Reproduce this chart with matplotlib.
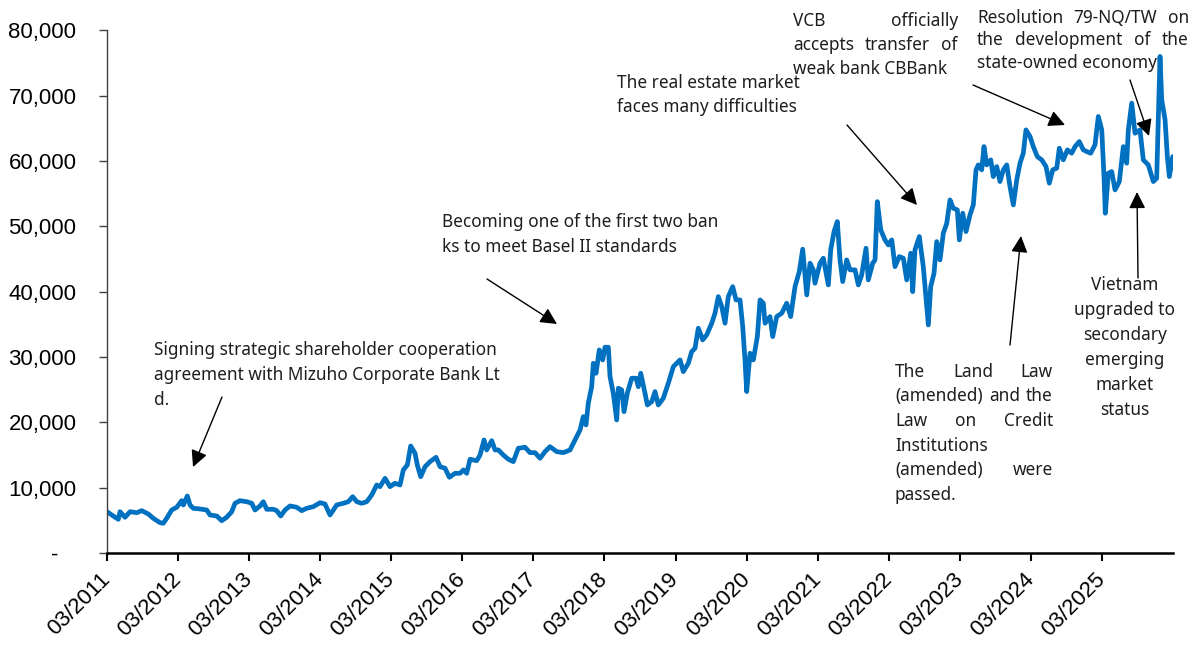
import matplotlib
matplotlib.use("Agg")
import matplotlib.pyplot as plt
from matplotlib.transforms import IdentityTransform
from matplotlib.ticker import FuncFormatter

# VCB share price (VND), dates as decimal years
dates = [
    2011.167, 2011.255, 2011.326, 2011.350, 2011.420, 2011.491, 2011.585, 2011.655,
    2011.748, 2011.818, 2011.913, 2011.959, 2012.007, 2012.077, 2012.148, 2012.218,
    2012.241, 2012.297, 2012.335, 2012.381, 2012.476, 2012.570, 2012.616, 2012.711,
    2012.781, 2012.851, 2012.922, 2012.968, 2013.038, 2013.133, 2013.203, 2013.250,
    2013.320, 2013.366, 2013.414, 2013.507, 2013.555, 2013.611, 2013.672, 2013.742,
    2013.836, 2013.907, 2013.977, 2014.070, 2014.164, 2014.234, 2014.305,
    2014.399, 2014.492, 2014.562, 2014.624, 2014.681, 2014.751, 2014.821, 2014.892,
    2014.962, 2015.008, 2015.079, 2015.149, 2015.219, 2015.290, 2015.336, 2015.393,
    2015.440, 2015.501, 2015.533, 2015.581, 2015.642, 2015.712, 2015.796, 2015.853,
    2015.923, 2015.984, 2016.064, 2016.134, 2016.181, 2016.228, 2016.275, 2016.369,
    2016.416, 2016.472, 2016.510, 2016.580, 2016.627, 2016.673, 2016.743, 2016.814,
    2016.884, 2016.954, 2017.049, 2017.119, 2017.189, 2017.260, 2017.330,
    2017.400, 2017.495, 2017.588, 2017.682, 2017.752, 2017.823, 2017.869, 2017.907,
    2017.939, 2017.987, 2018.010, 2018.048, 2018.094, 2018.142, 2018.174, 2018.221,
    2018.245, 2018.291, 2018.339, 2018.362, 2018.409, 2018.442, 2018.488, 2018.550,
    2018.611, 2018.643, 2018.677, 2018.737, 2018.770, 2018.832, 2018.878, 2018.924,
    2018.995, 2019.065, 2019.136, 2019.183, 2019.230, 2019.276, 2019.347, 2019.394,
    2019.441, 2019.487, 2019.549, 2019.605, 2019.676, 2019.722, 2019.769, 2019.817,
    2019.863, 2019.909, 2019.971, 2020.018, 2020.074, 2020.112, 2020.144, 2020.168,
    2020.215, 2020.261, 2020.318,
    2020.356, 2020.402, 2020.426, 2020.496, 2020.534, 2020.590, 2020.661, 2020.731,
    2020.787, 2020.848, 2020.908, 2020.956, 2021.013, 2021.059, 2021.105, 2021.129,
    2021.200, 2021.246, 2021.317, 2021.350, 2021.397, 2021.443, 2021.481, 2021.519,
    2021.575, 2021.622, 2021.692, 2021.739, 2021.786, 2021.847, 2021.879, 2021.941,
    2021.974, 2022.006, 2022.054, 2022.114, 2022.161, 2022.209, 2022.255, 2022.315,
    2022.372, 2022.420, 2022.476, 2022.504, 2022.536, 2022.597, 2022.653, 2022.724,
    2022.757, 2022.804, 2022.842, 2022.888, 2022.935, 2022.983, 2023.029, 2023.075,
    2023.132, 2023.160,
    2023.208, 2023.254, 2023.310, 2023.357, 2023.395, 2023.427, 2023.475, 2023.507,
    2023.545, 2023.602, 2023.638, 2023.686, 2023.732, 2023.779, 2023.827, 2023.873,
    2023.920, 2023.968, 2024.014, 2024.060, 2024.098, 2024.155, 2024.201, 2024.257,
    2024.319, 2024.380, 2024.426, 2024.474, 2024.530, 2024.567, 2024.623, 2024.680,
    2024.741, 2024.788, 2024.848, 2024.905, 2024.952, 2025.009, 2025.069, 2025.116,
    2025.164, 2025.196, 2025.214, 2025.257, 2025.304, 2025.351, 2025.411, 2025.468,
    2025.515, 2025.538, 2025.586, 2025.632, 2025.702, 2025.749, 2025.819, 2025.890,
    2025.937, 2025.984, 2026.008, 2026.055, 2026.087, 2026.115, 2026.163,
]

prices = [
    6320, 5660, 5160, 6320, 5470, 6320, 6170, 6480,
    5970, 5310, 4640, 4550, 5310, 6580, 7000, 8010,
    7350, 8730, 7350, 6840, 6740, 6580, 5820, 5660,
    4950, 5470, 6320, 7610, 8010, 7850, 7610, 6580,
    7200, 7850, 6690, 6690, 6480, 5660, 6580, 7200,
    7000, 6480, 6840, 7090, 7700, 7500, 5820,
    7350, 7610, 7850, 8620, 7850, 7610, 7850, 8880,
    10410, 10150, 11430, 10150, 10670, 10410, 12710, 13470,
    16380, 15260, 13470, 11680, 13210, 13980, 14650, 13210,
    12970, 11590, 12200, 12200, 12710, 12200, 14350, 14130,
    15000, 17300, 15770, 17190, 15770, 15770, 15000, 14350,
    13980, 16030, 16180, 15360, 15360, 14500, 15510,
    16270, 15510, 15360, 15770, 17300, 18830, 20870, 19600,
    22920, 25460, 29040, 27510, 31080, 29550, 31490, 31490,
    26990, 24450, 20360, 25220, 24960, 21630, 24450, 26750,
    26750, 25460, 27510, 24450, 22660, 23170, 24700, 22660,
    23690, 25980, 28520, 29040, 29550, 27760, 29040, 30820,
    31340, 34400, 32610, 33380, 35170, 36700, 39240, 37710,
    35170, 39240, 40770, 38730, 38730, 34650, 29550, 24700,
    30570, 29550, 33120,
    38730, 38230, 35170, 36180, 33120, 36180, 36700, 38230,
    36180, 40770, 43070, 46500, 39500, 44350, 43330, 41290,
    44350, 45120, 41030, 46390, 49190, 50720, 44860, 41540,
    44860, 43330, 43330, 41030, 42560, 46650, 41800, 44350,
    44860, 53780, 49450, 47920, 47150, 47920, 43830, 45360,
    45120, 41800, 45880, 40000, 46390, 48430, 43830, 34910,
    40770, 42820, 47660, 44860, 48950, 50460, 54040, 52770,
    52510, 47920,
    52000, 49190, 51750, 53280, 58640, 59400, 58640, 62200,
    59400, 60170, 57610, 59140, 56850, 58640, 59400, 56080,
    53280, 57110, 59660, 61190, 64760, 63740, 62200, 60680,
    60170, 59140, 56600, 58640, 58890, 61950, 60170, 61700,
    61190, 62200, 62970, 61700, 61440, 61190, 62470, 66810,
    64760, 57610, 52000, 58130, 58380, 55570, 56850, 62200,
    59660, 64760, 68850, 64250, 64760, 60170, 59400, 56850,
    57360, 75990, 69360, 66300, 60680, 57610, 60680,
]

tick_years = list(range(2011, 2026))
tick_labels = [f"03/{y}" for y in tick_years]
y_ticks = [0, 10000, 20000, 30000, 40000, 50000, 60000, 70000, 80000]

W, H = 1202, 648
fig = plt.figure(figsize=(W / 100, H / 100), dpi=100)
fig.patch.set_facecolor("white")
ax = fig.add_axes([107 / W, 1 - 553 / H, (1173 - 107) / W, (553 - 30.3) / H])

ax.plot(dates, prices, color="#0070C0", lw=3.4, solid_joinstyle="round",
        solid_capstyle="round")

ax.set_xlim(2011 + 2 / 12, 2026 + 2 / 12)
ax.set_ylim(0, 80000)
ax.set_xticks([y + 2 / 12 for y in tick_years])
ax.set_xticklabels(tick_labels)
ax.set_yticks(y_ticks)
# accounting-style labels: zero shown as a dash, padded like the number column
ax.yaxis.set_major_formatter(
    FuncFormatter(lambda v, p: "-   " if v == 0 else f"{v:,.0f}"))

for side in ("top", "right"):
    ax.spines[side].set_visible(False)
ax.spines["left"].set_color("#404040")
ax.spines["left"].set_linewidth(1.0)
ax.spines["bottom"].set_color("black")
ax.spines["bottom"].set_linewidth(1.8)

ax.tick_params(axis="y", direction="out", length=6, width=1.0, color="#404040",
               pad=16, labelsize=16)
ax.tick_params(axis="x", direction="out", length=6, width=1.5, color="black",
               pad=11, labelsize=16)
for lab in ax.get_yticklabels():
    lab.set_fontfamily("Liberation Sans")
for lab in ax.get_xticklabels():
    lab.set_fontfamily("Liberation Sans")
    lab.set_rotation(45)
    lab.set_ha("right")
    lab.set_va("center")
    lab.set_rotation_mode("anchor")

# ---- annotations (positions in figure pixels, origin top-left) ----
NOTE_FONT = dict(family="Noto Sans", size=12.4, color="#1e1e1e")
ident = IdentityTransform()
renderer = fig.canvas.get_renderer()


def put(x, y, s, ha="left"):
    return fig.text(x, H - y, s, transform=ident, ha=ha, va="baseline", **NOTE_FONT)


def block(lines, x0, x1, baselines, align="left"):
    for i, (line, yb) in enumerate(zip(lines, baselines)):
        last = i == len(lines) - 1
        words = line.split(" ")
        if align == "center":
            put((x0 + x1) / 2, yb, line, ha="center")
        elif align == "justify" and not last and len(words) > 1:
            items = [put(0, yb, w) for w in words]
            widths = [t.get_window_extent(renderer).width for t in items]
            gap = (x1 - x0 - sum(widths)) / (len(words) - 1)
            x = x0
            for t, w in zip(items, widths):
                t.set_x(x)
                x += w + gap
        else:
            put(x0, yb, line)


def arrow(tail, tip):
    ax.annotate("", xy=(tip[0], H - tip[1]), xytext=(tail[0], H - tail[1]),
                xycoords="figure pixels", textcoords="figure pixels",
                arrowprops=dict(arrowstyle="-|>,head_length=0.5,head_width=0.25",
                                mutation_scale=20, lw=1.0, color="black",
                                shrinkA=0, shrinkB=0))


block(["Signing strategic shareholder cooperation",
       "agreement with Mizuho Corporate Bank Lt",
       "d."], 154, 492, [355, 380, 405])
arrow((222, 397), (193, 467))

block(["Becoming one of the first two ban",
       "ks to meet Basel II standards"], 442, 720, [227, 252])
arrow((487, 279), (557, 324))

block(["The real estate market",
       "faces many difficulties"], 617, 800, [88, 112])
arrow((847, 125), (917, 205))

block(["VCB officially",
       "accepts transfer of",
       "weak bank CBBank"], 793, 958, [26, 50, 74], align="justify")
arrow((973, 85), (1065, 125))

block(["Resolution 79-NQ/TW on",
       "the development of the",
       "state-owned economy"], 977, 1189, [23, 45, 68], align="justify")
arrow((1130, 80), (1149, 136))

block(["Vietnam", "upgraded to", "secondary", "emerging", "market", "status"],
      1090, 1160, [290, 315, 340, 365, 390, 415], align="center")
arrow((1138, 278), (1137, 192))

block(["The Land Law",
       "(amended) and the",
       "Law on Credit",
       "Institutions",
       "(amended) were",
       "passed."], 895, 1053, [377, 401, 426, 451, 475, 500], align="justify")
arrow((1010, 345), (1021, 236))

fig.savefig("out.png", dpi=100, facecolor="white")
